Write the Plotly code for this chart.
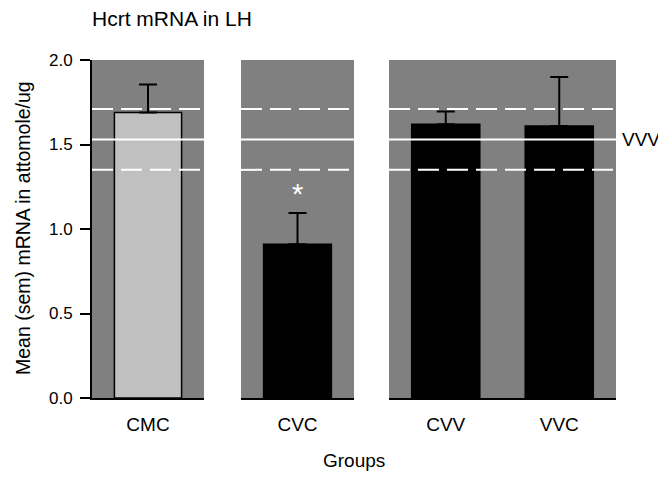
import plotly.graph_objects as go

# ---- data ----
groups = ["CMC", "CVC", "CVV", "VVC"]
means = [1.69, 0.91, 1.62, 1.61]
sems = [0.165, 0.185, 0.075, 0.29]
panels = [1, 2, 3, 3]
positions = [0, 0, 0, 1]
bar_colors = ["#c0c0c0", "#000000", "#000000", "#000000"]
vvv_mean = 1.53
vvv_upper = 1.71
vvv_lower = 1.35
y_ticks = [0.0, 0.5, 1.0, 1.5, 2.0]
sig_group = "CVC"
sig_y = 1.22
panel_ranges = {1: [-0.5, 0.5], 2: [-0.5, 0.5], 3: [-0.5, 1.5]}

FONT = "Liberation Sans, Arial, sans-serif"
GRAY = "#808080"

# page body has an 8px margin; build the figure so absolute positions match
OFF = 8
W, H = 666 - OFF, 477 - OFF
L, R, T, B = 92 - OFF, 50, 60 - OFF, 79
pw = W - L - R
ph = H - T - B

def ax_px(a):  # absolute page x -> paper
    return (a - OFF - L) / pw

def ay_px(a):  # absolute page y -> paper
    return (H - B - (a - OFF)) / ph

domains = {1: [ax_px(92), ax_px(204)], 2: [ax_px(241), ax_px(354)], 3: [ax_px(389), ax_px(616)]}
axname = {1: "x", 2: "x2", 3: "x3"}

fig = go.Figure()

# bars
for p in (1, 2, 3):
    idx = [i for i in range(len(groups)) if panels[i] == p]
    fig.add_trace(go.Bar(
        x=[positions[i] for i in idx], y=[means[i] for i in idx],
        marker=dict(color=[bar_colors[i] for i in idx], line=dict(color="black", width=1.5)),
        width=0.6, xaxis=axname[p], yaxis="y", showlegend=False, hoverinfo="skip"))

# VVV reference lines
for p in (1, 2, 3):
    xr = panel_ranges[p]
    for val, dash in ((vvv_upper, "21px,8px"), (vvv_mean, "solid"), (vvv_lower, "21px,8px")):
        fig.add_trace(go.Scatter(
            x=xr, y=[val, val], mode="lines",
            line=dict(color="white", width=2, dash=dash),
            xaxis=axname[p], yaxis="y", showlegend=False, hoverinfo="skip"))

# error bars (upper only)
for i in range(len(groups)):
    fig.add_trace(go.Scatter(
        x=[positions[i]], y=[means[i]], mode="markers",
        marker=dict(color="rgba(0,0,0,0)", size=1),
        error_y=dict(type="data", symmetric=False, array=[sems[i]], arrayminus=[0],
                     color="black", thickness=2, width=9),
        xaxis=axname[panels[i]], yaxis="y", showlegend=False, hoverinfo="skip"))

layout = dict(
    width=W, height=H,
    margin=dict(l=L, r=R, t=T, b=B),
    paper_bgcolor="white", plot_bgcolor=GRAY,
    font=dict(family=FONT, color="black", size=18),
    yaxis=dict(range=[0, 2], tickvals=y_ticks, tickformat=".1f", ticks="outside",
               ticklen=10, tickwidth=1.5, tickcolor="black", showline=True,
               linecolor="black", linewidth=2, showgrid=False, zeroline=False,
               tickfont=dict(size=17), anchor="x", ticklabelstandoff=4),
)
for p in (1, 2, 3):
    idx = [i for i in range(len(groups)) if panels[i] == p]
    key = "xaxis" if p == 1 else f"xaxis{p}"
    layout[key] = dict(domain=domains[p], range=panel_ranges[p], anchor="y",
                       tickvals=[positions[i] for i in idx], ticktext=[groups[i] for i in idx],
                       ticks="", showline=True, linecolor="black", linewidth=2,
                       showgrid=False, zeroline=False, tickfont=dict(size=19),
                       ticklabelstandoff=8)
fig.update_layout(**layout)

fig.add_annotation(text="Hcrt mRNA in LH", xref="paper", yref="paper", x=ax_px(90), y=ay_px(18),
                   xanchor="left", yanchor="middle", showarrow=False, font=dict(size=21))
fig.add_annotation(text="Mean (sem) mRNA in attomole/ug", xref="paper", yref="paper",
                   x=ax_px(23), y=ay_px(228), textangle=-90, xanchor="center", yanchor="middle",
                   showarrow=False, font=dict(size=19.5))
fig.add_annotation(text="Groups", xref="paper", yref="paper", x=ax_px(354), y=ay_px(460),
                   xanchor="center", yanchor="middle", showarrow=False, font=dict(size=19))
fig.add_annotation(text="VVV", xref="paper", yref="y", x=ax_px(620), y=vvv_mean,
                   xanchor="left", yanchor="middle", showarrow=False, font=dict(size=19))
si = groups.index(sig_group)
fig.add_annotation(text="*", xref=axname[panels[si]], yref="y", x=positions[si], y=sig_y - 0.01,
                   xanchor="center", yanchor="middle", showarrow=False,
                   font=dict(size=29, color="white"))

fig.write_html("out.html")
